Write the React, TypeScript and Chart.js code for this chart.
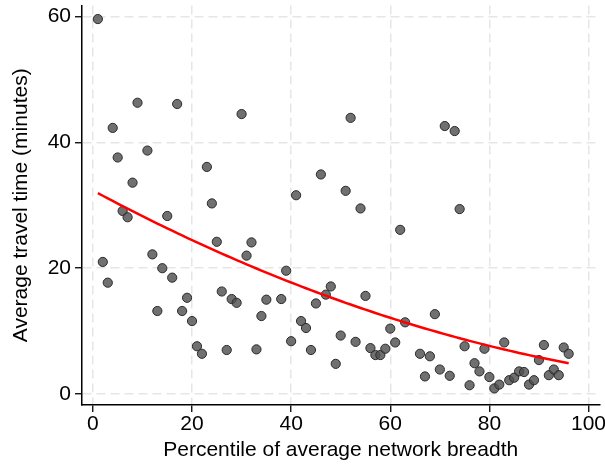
import { useEffect, useRef } from "react";
import { Chart, registerables } from "chart.js";

Chart.register(...registerables);

// Percentile of average network breadth (x) and average travel time in minutes (y)
const PCT = [
  1, 2, 3, 4, 5, 6, 7, 8, 9, 11, 12, 13, 14, 15, 16, 17, 18, 19, 20,
  21, 22, 23, 24, 25, 26, 27, 28, 29, 30, 31, 32, 33, 34, 35, 38, 39, 40,
  41, 42, 43, 44, 45, 46, 47, 48, 49, 50, 51, 52, 53, 54, 55, 56, 57, 58, 59, 60,
  61, 62, 63, 66, 67, 68, 69, 70, 71, 72, 73, 74, 75, 76, 77, 78, 79, 80,
  81, 82, 83, 84, 85, 86, 87, 88, 89, 90, 91, 92, 93, 94, 95, 96,
];
const TRAVEL = [
  59.6, 21.0, 17.7, 42.3, 37.6, 29.1, 28.1, 33.6, 46.3, 38.7, 22.2, 13.2, 20.0, 28.3, 18.5, 46.1, 13.2, 15.3, 11.6,
  7.6, 6.4, 36.1, 30.3, 24.2, 16.3, 7.0, 15.1, 14.5, 44.5, 22.0, 24.1, 7.1, 12.4, 15.0, 15.1, 19.6, 8.4,
  31.6, 11.6, 10.5, 7.0, 14.4, 34.9, 15.8, 17.1, 4.8, 9.3, 32.3, 43.9, 8.3, 29.5, 15.6, 7.3, 6.2, 6.2, 7.2, 10.4,
  8.2, 26.1, 11.4, 6.4, 2.8, 6.0, 12.7, 3.9, 42.6, 2.9, 41.8, 29.4, 7.6, 1.4, 4.9, 3.6, 7.2, 2.7,
  0.9, 1.5, 8.2, 2.2, 2.6, 3.6, 3.5, 1.5, 2.2, 5.4, 7.8, 3.0, 3.9, 3.0, 7.4, 6.4,
];

const X_TICKS = [0, 20, 40, 60, 80, 100];
const Y_TICKS = [0, 20, 40, 60];
const X_TITLE = "Percentile of average network breadth";
const Y_TITLE = "Average travel time (minutes)";

const FONT_FAMILY = "'Liberation Sans', Arial, Helvetica, sans-serif";

// Least-squares quadratic fit y = a + b x + c x^2
function quadraticFit(xs: number[], ys: number[]): [number, number, number] {
  let s0 = 0, s1 = 0, s2 = 0, s3 = 0, s4 = 0, t0 = 0, t1 = 0, t2 = 0;
  for (let i = 0; i < xs.length; i++) {
    const x = xs[i];
    const y = ys[i];
    s0 += 1; s1 += x; s2 += x * x; s3 += x * x * x; s4 += x * x * x * x;
    t0 += y; t1 += x * y; t2 += x * x * y;
  }
  const m = [
    [s0, s1, s2, t0],
    [s1, s2, s3, t1],
    [s2, s3, s4, t2],
  ];
  for (let c = 0; c < 3; c++) {
    for (let r = c + 1; r < 3; r++) {
      const f = m[r][c] / m[c][c];
      for (let k = c; k < 4; k++) m[r][k] -= f * m[c][k];
    }
  }
  const sol = [0, 0, 0];
  for (let r = 2; r >= 0; r--) {
    let v = m[r][3];
    for (let k = r + 1; k < 3; k++) v -= m[r][k] * sol[k];
    sol[r] = v / m[r][r];
  }
  return [sol[0], sol[1], sol[2]];
}

export default function App() {
  const canvasRef = useRef<HTMLCanvasElement | null>(null);

  useEffect(() => {
    const canvas = canvasRef.current;
    if (!canvas) return;

    const [a, b, c] = quadraticFit(PCT, TRAVEL);
    const fitted = PCT.map((x) => ({ x, y: a + b * x + c * x * x }));
    const points = PCT.map((x, i) => ({ x, y: TRAVEL[i] }));

    const tickFont = { size: 21, family: FONT_FAMILY };

    const chart = new Chart(canvas, {
      type: "scatter",
      data: {
        datasets: [
          {
            type: "line",
            data: fitted,
            borderColor: "#ff0000",
            borderWidth: 2.5,
            pointRadius: 0,
            fill: false,
            tension: 0,
          },
          {
            type: "scatter",
            data: points,
            pointRadius: 4.6,
            pointBorderWidth: 1,
            pointBackgroundColor: "rgba(80,80,80,0.82)",
            pointBorderColor: "#2a2a2a",
          },
        ],
      },
      options: {
        responsive: false,
        animation: false,
        events: [],
        layout: { padding: { top: 3, right: 5, bottom: 0, left: 0 } },
        plugins: {
          legend: { display: false },
          tooltip: { enabled: false },
        },
        scales: {
          x: {
            type: "linear",
            min: -2.2,
            max: 102.2,
            afterBuildTicks: (s: any) => {
              s.ticks = X_TICKS.map((v) => ({ value: v }));
            },
            afterFit: (s: any) => {
              s.height = 59;
              s.paddingLeft = 0;
              s.paddingRight = 0;
            },
            grid: {
              color: "#e6e6e6",
              lineWidth: 1.5,
              tickColor: "#000",
              tickLength: 7,
              tickWidth: 1.3,
              tickBorderDash: [],
            },
            border: { color: "#000", width: 1.5, dash: [9, 5] },
            ticks: {
              color: "#000",
              font: tickFont,
              padding: 0,
              maxRotation: 0,
              autoSkip: false,
            },
            title: {
              display: true,
              text: X_TITLE,
              color: "#000",
              font: tickFont,
              padding: { top: 0, bottom: 1 },
            },
          },
          y: {
            type: "linear",
            min: -1.74,
            max: 61.74,
            afterBuildTicks: (s: any) => {
              s.ticks = Y_TICKS.map((v) => ({ value: v }));
            },
            afterFit: (s: any) => {
              s.width = 82;
              s.paddingTop = 0;
              s.paddingBottom = 0;
            },
            grid: {
              color: "#e6e6e6",
              lineWidth: 1.5,
              tickColor: "#000",
              tickLength: 7,
              tickWidth: 1.3,
              tickBorderDash: [],
            },
            border: { color: "#000", width: 1.5, dash: [9, 5] },
            ticks: {
              color: "#000",
              font: tickFont,
              padding: 4,
              autoSkip: false,
            },
            title: {
              display: true,
              text: Y_TITLE,
              color: "#000",
              font: tickFont,
              padding: { top: 9, bottom: 0 },
            },
          },
        },
      },
    } as any);

    return () => chart.destroy();
  }, []);

  return (
    <div style={{ position: "absolute", left: 0, top: 0, width: 605, height: 464, background: "#fff" }}>
      <canvas ref={canvasRef} width={605} height={464} style={{ display: "block" }} />
    </div>
  );
}
